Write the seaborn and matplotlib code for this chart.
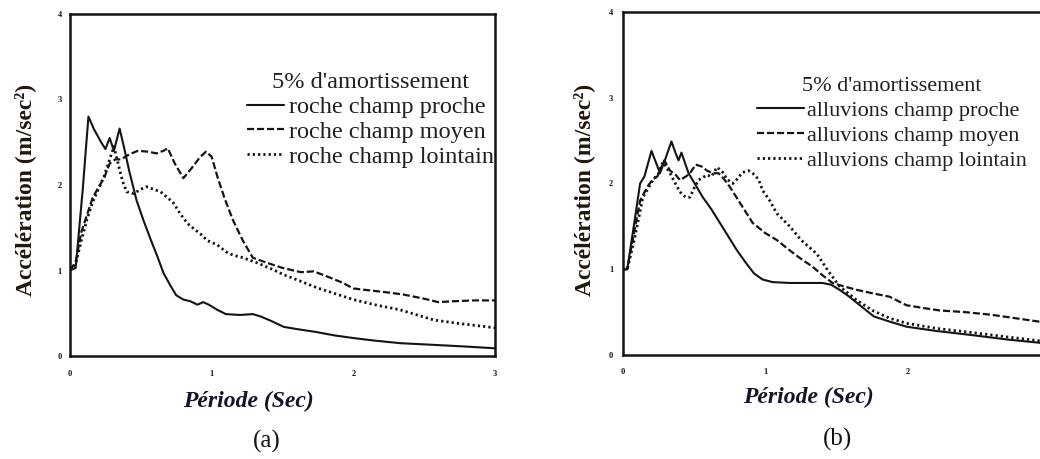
import matplotlib
matplotlib.use("Agg")
import matplotlib.pyplot as plt
import seaborn as sns

# ---------------- data ----------------
# (a) rock sites
a_proche_x = [0, 0.04, 0.09, 0.13, 0.17, 0.22, 0.25, 0.28, 0.31, 0.35, 0.38, 0.42, 0.47, 0.52, 0.57,
              0.62, 0.66, 0.71, 0.75, 0.80, 0.85, 0.90, 0.94, 0.98, 1.04, 1.10, 1.20, 1.29, 1.35,
              1.42, 1.51, 1.62, 1.74, 1.87, 2.0, 2.15, 2.33, 2.57, 2.8, 3.0]
a_proche_y = [1.0, 1.03, 1.95, 2.80, 2.65, 2.50, 2.42, 2.55, 2.40, 2.66, 2.45, 2.15, 1.82, 1.58, 1.36,
              1.15, 0.97, 0.82, 0.71, 0.66, 0.64, 0.60, 0.63, 0.60, 0.54, 0.49, 0.48, 0.49, 0.46,
              0.41, 0.34, 0.31, 0.28, 0.24, 0.21, 0.18, 0.15, 0.13, 0.11, 0.09]

a_moyen_x = [0, 0.04, 0.08, 0.12, 0.16, 0.20, 0.24, 0.28, 0.32, 0.36, 0.42, 0.48, 0.55, 0.61, 0.66,
             0.69, 0.74, 0.80, 0.86, 0.92, 0.96, 1.0, 1.04, 1.09, 1.15, 1.22, 1.29, 1.39, 1.50,
             1.63, 1.72, 1.80, 1.92, 2.0, 2.10, 2.21, 2.35, 2.50, 2.60, 2.70, 2.85, 3.0]
a_moyen_y = [1.0, 1.1, 1.45, 1.65, 1.85, 1.97, 2.08, 2.25, 2.30, 2.30, 2.36, 2.40, 2.39, 2.37, 2.40,
             2.43, 2.25, 2.08, 2.20, 2.33, 2.39, 2.33, 2.10, 1.85, 1.59, 1.35, 1.15, 1.09, 1.03,
             0.98, 0.99, 0.94, 0.86, 0.79, 0.77, 0.75, 0.72, 0.67, 0.63, 0.64, 0.65, 0.65]

a_lointain_x = [0, 0.04, 0.08, 0.12, 0.16, 0.20, 0.24, 0.28, 0.31, 0.34, 0.37, 0.40, 0.45, 0.50, 0.54,
                0.59, 0.64, 0.69, 0.73, 0.78, 0.83, 0.88, 0.92, 0.97, 1.04, 1.10, 1.15, 1.22, 1.32,
                1.42, 1.51, 1.62, 1.74, 1.87, 2.0, 2.15, 2.33, 2.45, 2.57, 2.75, 3.0]
a_lointain_y = [1.0, 1.08, 1.35, 1.6, 1.8, 1.95, 2.1, 2.3, 2.45, 2.25, 2.05, 1.92, 1.90, 1.95, 1.98,
                1.95, 1.92, 1.85, 1.79, 1.66, 1.55, 1.48, 1.43, 1.35, 1.30, 1.22, 1.18, 1.15, 1.09,
                1.02, 0.95, 0.88, 0.80, 0.73, 0.66, 0.60, 0.54, 0.48, 0.42, 0.38, 0.33]

# (b) alluvium sites
b_proche_x = [0, 0.03, 0.08, 0.12, 0.15, 0.20, 0.26, 0.30, 0.34, 0.37, 0.39, 0.41, 0.46, 0.51, 0.56,
              0.62, 0.68, 0.74, 0.80, 0.86, 0.92, 0.98, 1.05, 1.17, 1.30, 1.40, 1.46, 1.52, 1.58,
              1.64, 1.70, 1.76, 1.87, 1.99, 2.2, 2.46, 2.7, 3.0]
b_proche_y = [1.0, 1.0, 1.55, 2.0, 2.08, 2.38, 2.12, 2.30, 2.49, 2.35, 2.27, 2.36, 2.12, 1.98, 1.84,
              1.70, 1.54, 1.38, 1.22, 1.08, 0.95, 0.88, 0.85, 0.84, 0.84, 0.84, 0.82, 0.76, 0.69,
              0.61, 0.53, 0.45, 0.39, 0.33, 0.28, 0.23, 0.18, 0.13]

b_moyen_x = [0, 0.03, 0.08, 0.12, 0.17, 0.21, 0.24, 0.29, 0.33, 0.37, 0.40, 0.44, 0.47, 0.51, 0.55,
             0.59, 0.63, 0.67, 0.71, 0.75, 0.83, 0.91, 1.0, 1.08, 1.17, 1.25, 1.33, 1.40, 1.47,
             1.55, 1.64, 1.75, 1.87, 1.99, 2.1, 2.22, 2.4, 2.58, 2.75, 3.0]
b_moyen_y = [1.0, 1.0, 1.45, 1.80, 1.96, 2.05, 2.08, 2.27, 2.15, 2.10, 2.04, 2.08, 2.12, 2.22, 2.20,
             2.15, 2.12, 2.12, 2.05, 1.96, 1.75, 1.54, 1.42, 1.34, 1.22, 1.12, 1.03, 0.93, 0.84,
             0.80, 0.76, 0.72, 0.68, 0.58, 0.55, 0.52, 0.50, 0.47, 0.43, 0.37]

b_lointain_x = [0, 0.03, 0.08, 0.14, 0.21, 0.25, 0.28, 0.33, 0.38, 0.41, 0.44, 0.47, 0.50, 0.53, 0.59,
                0.62, 0.66, 0.70, 0.73, 0.77, 0.80, 0.84, 0.88, 0.91, 0.95, 0.98, 1.03, 1.08, 1.17,
                1.25, 1.36, 1.44, 1.52, 1.64, 1.75, 1.87, 1.99, 2.2, 2.46, 2.7, 3.0]
b_lointain_y = [1.0, 1.0, 1.35, 1.84, 2.04, 2.12, 2.25, 2.12, 1.96, 1.88, 1.84, 1.84, 1.95, 2.04, 2.10,
                2.08, 2.19, 2.13, 2.05, 2.00, 2.05, 2.13, 2.15, 2.12, 2.05, 1.92, 1.80, 1.65, 1.50,
                1.34, 1.18, 0.98, 0.80, 0.64, 0.52, 0.43, 0.37, 0.31, 0.26, 0.21, 0.15]

labels_a = ["roche champ proche", "roche champ moyen", "roche champ lointain"]
labels_b = ["alluvions champ proche", "alluvions champ moyen", "alluvions champ lointain"]
legend_title = "5% d'amortissement"
x_ticks_a = [0, 1, 2, 3]
x_ticks_b = [0, 1, 2]
y_ticks = [0, 1, 2, 3, 4]
x_label = "Période (Sec)"
y_label = "Accélération (m/sec²)"
panel_tags = ["(a)", "(b)"]

# ---------------- style ----------------
sns.set_style("white")
plt.rcParams["font.family"] = ["Liberation Serif", "DejaVu Serif"]

INK = "#141414"
W, H = 1040, 459
fig = plt.figure(figsize=(W / 100, H / 100), dpi=100)
fig.patch.set_facecolor("white")

ax_a = fig.add_axes([70 / W, 1 - 356 / H, 425 / W, 342 / H])
ax_b = fig.add_axes([623 / W, 1 - 355 / H, 427.5 / W, 343 / H])

styles = [
    dict(linestyle="-", linewidth=1.5),
    dict(linestyle=(0, (3.2, 1.3)), linewidth=1.6),
    dict(linestyle=(0, (0.8, 1.1)), linewidth=2.0),
]

series_a = [(a_proche_x, a_proche_y), (a_moyen_x, a_moyen_y), (a_lointain_x, a_lointain_y)]
series_b = [(b_proche_x, b_proche_y), (b_moyen_x, b_moyen_y), (b_lointain_x, b_lointain_y)]

for ax, series, labels, xt in [(ax_a, series_a, labels_a, x_ticks_a),
                               (ax_b, series_b, labels_b, x_ticks_b)]:
    for (xs, ys), lab, st in zip(series, labels, styles):
        sns.lineplot(x=xs, y=ys, ax=ax, color=INK, label=lab, estimator=None,
                     sort=False, **st)
    ax.set_xlim(0, 3)
    ax.set_ylim(0, 4)
    ax.set_xticks(xt)
    ax.set_yticks(y_ticks)
    ax.set_facecolor("white")
    for s in ax.spines.values():
        s.set_color(INK)
        s.set_linewidth(1.8)
    ax.tick_params(direction="in", length=4, width=1.2, colors=INK, labelsize=6)
    for t in ax.get_xticklabels() + ax.get_yticklabels():
        t.set_fontweight("bold")

ax_a.tick_params(axis="y", pad=6)
ax_a.tick_params(axis="x", pad=10)
ax_b.tick_params(axis="y", pad=7)
ax_b.tick_params(axis="x", pad=9)
ax_b.spines["right"].set_visible(False)

# axis labels
for ax, xc, yc, xl, yl in [(ax_a, 0.419, -0.132, -0.106, 0.485),
                           (ax_b, 0.433, -0.125, -0.091, 0.481)]:
    ax.set_xlabel(x_label, fontsize=17, fontweight="bold", fontstyle="italic",
                  color="#141428", va="center")
    ax.xaxis.set_label_coords(xc, yc)
    ax.set_ylabel(y_label, fontsize=17, fontweight="bold", color="#20170c", va="center")
    ax.yaxis.set_label_coords(xl, yl)

# legends
for ax, anchor, hl, fs, ls, tp in [(ax_a, (0.998, 0.83), 1.55, 17.5, 0.12, 0.2),
                                   (ax_b, (0.945, 0.81), 2.1, 16, 0.2, 0.15)]:
    leg = ax.legend(title=legend_title, loc="upper right", bbox_to_anchor=anchor,
                    frameon=False, fontsize=fs, title_fontsize=fs, handlelength=hl,
                    handletextpad=tp, labelspacing=ls, borderpad=0.0,
                    borderaxespad=0.0)
    leg.get_title().set_color("#202020")
    for t in leg.get_texts():
        t.set_color("#202020")

fig.text(267 / W, 1 - 441 / H, panel_tags[0], fontsize=18, ha="center", va="center", color=INK)
fig.text(838 / W, 1 - 439 / H, panel_tags[1], fontsize=18, ha="center", va="center", color=INK)

fig.savefig("out.png", dpi=100, facecolor="white")
